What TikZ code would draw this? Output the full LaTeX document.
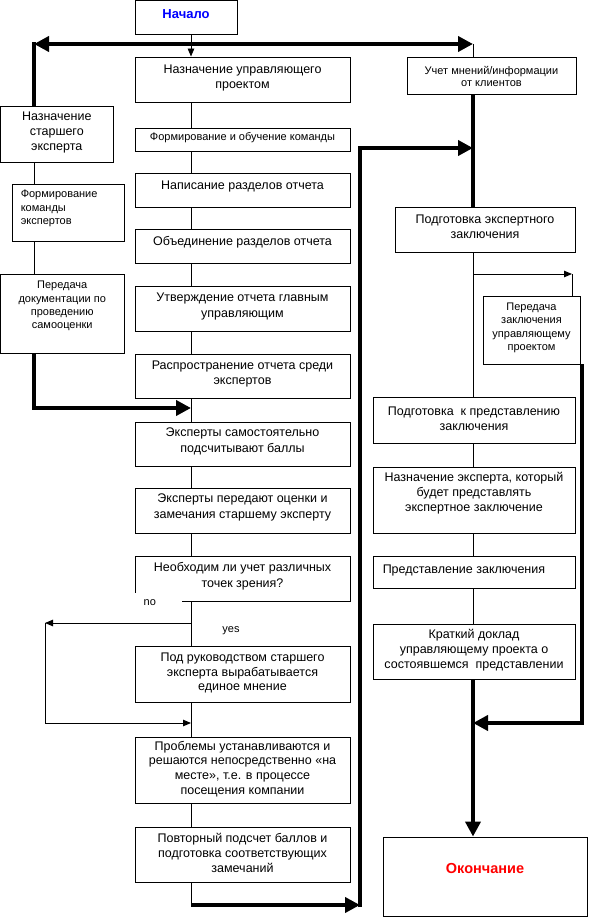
\documentclass[tikz,border=0pt]{standalone}
\usepackage{fontspec}
\setmainfont{Liberation Sans}
\usetikzlibrary{arrows.meta}
\definecolor{nblue}{RGB}{0,0,255}
\definecolor{nred}{RGB}{255,0,0}
\newcommand\lgf{\fontsize{12.5pt}{15.5pt}\selectfont}
\newcommand\lgg{\fontsize{12.5pt}{14.7pt}\selectfont}
\newcommand\smf{\fontsize{11pt}{13.3pt}\selectfont}
\newcommand\smg{\fontsize{11pt}{12pt}\selectfont}
\newcommand\bxn[7]{%
  \node[box, minimum width={#4-#2}, minimum height={#5-#3}] (#1) at ({(#2+#4)/2},{(#3+#5)/2}) {};
  \node[#6] (#1t) at (#1.center) {#7};}
\begin{document}
\begin{tikzpicture}[x=1pt,y=-1pt,
  box/.style={draw, line width=0.9pt, inner sep=0pt, rectangle},
  lt/.style={font=\lgf, align=center, inner sep=0pt},
  ltm/.style={font=\lgg, align=center, inner sep=0pt},
  st/.style={font=\smf, align=center, inner sep=0pt},
  thin/.style={line width=0.9pt},
  thinarr/.style={line width=0.9pt, -{Triangle[length=8pt,width=6.5pt]}},
  thickl/.style={line width=4pt},
  thickarr/.style={line width=4pt, -{Triangle[length=15pt,width=15pt]}},
]
\fill[white] (0,0) rectangle (594,917);
\useasboundingbox (0,0) rectangle (594,917);

% start / end
\bxn{start}{135}{0.5}{237}{34}{font=\fontsize{13pt}{15pt}\selectfont\bfseries, text=nblue, inner sep=0pt, yshift=3pt}{Начало}
\bxn{fin}{383}{837}{587}{916}{font=\fontsize{14.5pt}{17pt}\selectfont\bfseries, text=nred, inner sep=0pt, yshift=8.5pt}{Окончание}

% middle column
\bxn{b1}{135}{57}{350}{102}{lt, yshift=1.5pt}{Назначение управляющего\\проектом}
\bxn{b2}{135}{128}{350}{151}{st, yshift=1.5pt}{Формирование и обучение команды}
\bxn{b3}{135}{173}{350}{207}{lt, yshift=4pt}{Написание разделов отчета}
\bxn{b4}{135}{229}{350}{263}{lt, yshift=3.5pt}{Объединение разделов отчета}
\bxn{b5}{135}{286}{350}{331}{lt, yshift=2pt}{Утверждение отчета главным\\управляющим}
\bxn{b6}{135}{354}{350}{398}{lt, yshift=2pt}{Распространение отчета среди\\экспертов}
\bxn{b7}{135}{422}{350}{466}{lt, yshift=2.5pt}{Эксперты самостоятельно\\подсчитывают баллы}
\bxn{b8}{135}{488}{350}{533}{lt, yshift=3pt}{Эксперты передают оценки и\\замечания старшему эксперту}
\bxn{b9}{135}{556}{350}{601}{lt, yshift=2.5pt}{Необходим ли учет различных\\точек зрения?}
\bxn{b10}{135}{646}{350}{702}{ltm, yshift=1pt}{Под руководством старшего\\эксперта вырабатывается\\единое мнение}
\bxn{b11}{135}{737}{350}{803}{ltm, yshift=1pt}{Проблемы устанавливаются и\\решаются непосредственно «на\\месте», т.е. в процессе\\посещения компании}
\bxn{b12}{135}{827}{350}{882}{ltm, yshift=1.5pt}{Повторный подсчет баллов и\\подготовка соответствующих\\замечаний}

% left column
\bxn{L1}{0.5}{106}{113}{162}{ltm, yshift=1.5pt}{Назначение\\старшего\\эксперта}
\node[box, minimum width=112, minimum height=57] (L2) at (68,212.5) {};
\node[st, align=left, anchor=west, xshift=9pt, yshift=4pt] (L2t) at (L2.west) {Формирование\\команды\\экспертов};
\bxn{L3}{0.5}{274}{124}{353}{st, yshift=7.5pt}{Передача\\документации по\\проведению\\самооценки}

% right column
\bxn{R0}{407}{57}{576}{94}{font=\smg, align=center, inner sep=0pt, yshift=-1pt}{Учет мнений/информации\\от клиентов}
\bxn{R1}{395}{207}{575}{252}{lt, yshift=2.5pt}{Подготовка экспертного\\заключения}
\bxn{RP}{483}{296}{580}{364}{st, yshift=2pt}{Передача\\заключения\\управляющему\\проектом}
\bxn{R2}{373}{397}{575}{443}{lt, yshift=1pt}{Подготовка~ к представлению\\заключения}
\bxn{R3}{373}{467}{575}{533}{ltm, yshift=7pt}{Назначение эксперта, который\\будет представлять\\экспертное заключение}
\node[box, minimum width=202, minimum height=32] (R4) at (474,572) {};
\node[lt, anchor=west, xshift=10pt, yshift=2pt] (R4t) at (R4.west) {Представление заключения};
\bxn{R5}{373}{624}{575}{679}{ltm, yshift=1.5pt}{Краткий доклад\\управляющему проекта о\\состоявшемся~ представлении}

% labels
\node[st, fill=white, minimum width=52, minimum height=20, anchor=north east] (no) at (182,592.5) {no\hspace{12pt}};
\node[st] (yes) at (231,631) {yes};

% coordinates
\coordinate (mx) at (191,0);
\coordinate (lx) at (34,0);
\coordinate (rx) at (473,0);
\coordinate (px) at (582,0);
\coordinate (ltopv) at (34,42);
\coordinate (ltop) at (34,44);
\coordinate (rtop) at (473,44);
\coordinate (la) at (34,408);
\coordinate (lb) at (191,408);
\coordinate (nob) at (191,623);
\coordinate (noc) at (45,623);
\coordinate (yc) at (45,723);
\coordinate (ye) at (191,723);
\coordinate (bb) at (191,905);
\coordinate (bc) at (360,905);
\coordinate (bcv) at (360,907);
\coordinate (bt) at (360,148);
\coordinate (be) at (473,148);
\coordinate (pb) at (473,274);
\coordinate (pc) at (572,274);
\coordinate (pe) at (582,723);
\coordinate (pf) at (473,723);

% middle connectors
\draw[thinarr] (start.south -| mx) -- (b1.north -| mx);
\draw[thin] (b1.south -| mx) -- (b2.north -| mx);
\draw[thin] (b2.south -| mx) -- (b3.north -| mx);
\draw[thin] (b3.south -| mx) -- (b4.north -| mx);
\draw[thin] (b4.south -| mx) -- (b5.north -| mx);
\draw[thin] (b5.south -| mx) -- (b6.north -| mx);
\draw[thin] (b6.south -| mx) -- (b7.north -| mx);
\draw[thin] (b7.south -| mx) -- (b8.north -| mx);
\draw[thin] (b8.south -| mx) -- (b9.north -| mx);
\draw[thin] (b9.south -| mx) -- (b10.north -| mx);
\draw[thin] (b10.south -| mx) -- (b11.north -| mx);
\draw[thin] (b11.south -| mx) -- (b12.north -| mx);
\draw[thinarr] (nob) -- (noc);
\draw[thinarr] (noc) -- (yc) -- (ye);
\draw[thin] (b12.south -| mx) -- (bb);
\draw[thickarr] (bb) -- (bc);
\draw[thickarr] (bcv) -- (bt) -- (be);

% left connectors
\draw[thin] (L1.south -| lx) -- (L2.north -| lx);
\draw[thin] (L2.south -| lx) -- (L3.north -| lx);
\draw[thickl] (L1.north -| lx) -- (ltopv);
\draw[line width=4pt, {Triangle[length=15pt,width=15pt]}-{Triangle[length=15pt,width=15pt]}] (ltop) -- (rtop);
\draw[thickarr] (L3.south -| lx) -- (la) -- (lb);

% right connectors
\draw[thin] (rtop) -- (R0.north -| rx);
\draw[thickl] (R0.south -| rx) -- (R1.north -| rx);
\draw[thin] (R1.south -| rx) -- (R2.north -| rx);
\draw[thinarr] (pb) -- (pc);
\draw[thin] (pc) -- (RP.north -| pc);
\draw[thickarr] (RP.south -| px) -- (pe) -- (pf);
\draw[thin] (R2.south -| rx) -- (R3.north -| rx);
\draw[thin] (R3.south -| rx) -- (R4.north -| rx);
\draw[thin] (R4.south -| rx) -- (R5.north -| rx);
\draw[thickarr] (R5.south -| rx) -- (fin.north -| rx);
\end{tikzpicture}
\end{document}
